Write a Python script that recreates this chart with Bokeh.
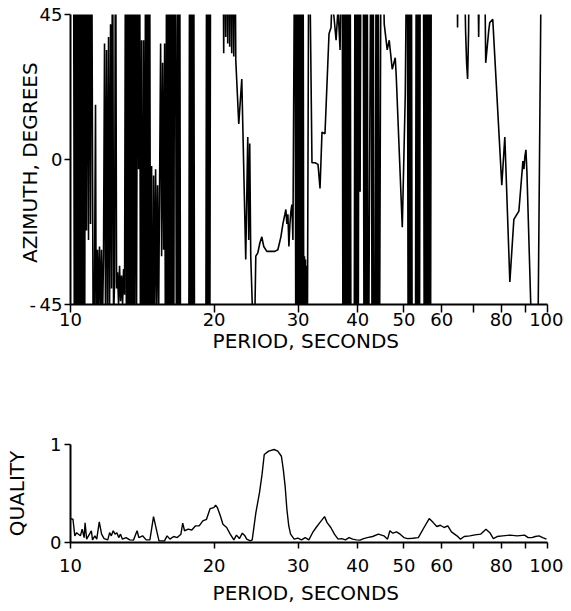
from bokeh.plotting import figure
from bokeh.layouts import column
from bokeh.models import FixedTicker, Range1d, BasicTickFormatter
from bokeh.embed import file_html
from bokeh.resources import INLINE

# ---------------- data ----------------
# azimuth trace (values beyond +/-45 are off the chart and get clipped)
az_period = [
    10.146, 10.195, 10.244, 10.294, 10.344, 10.394, 10.444, 10.495, 10.546, 10.597,
    10.648, 10.700, 10.752, 10.804, 10.856, 10.909, 10.962, 11.015, 11.068, 11.176,
    11.284, 11.339, 11.394, 11.449, 11.504, 11.560, 11.616, 11.672, 11.728, 11.785,
    11.842, 11.900, 11.958, 12.016, 12.074, 12.133, 12.192, 12.251, 12.310, 12.370,
    12.430, 12.490, 12.550, 12.611, 12.672, 12.734, 12.796, 12.858, 12.920, 12.983,
    13.046, 13.109, 13.172, 13.236, 13.300, 13.365, 13.430, 13.495, 13.560, 13.626,
    13.692, 13.758, 13.825, 13.892, 13.960, 14.027, 14.095, 14.163, 14.231, 14.300,
    14.370, 14.439, 14.509, 14.579, 14.650, 14.721, 14.792, 14.864, 14.936, 15.008,
    15.081, 15.154, 15.227, 15.301, 15.450, 15.525, 15.600, 15.676, 15.752, 15.828,
    15.905, 15.982, 16.060, 16.138, 16.216, 16.294, 16.373, 16.452, 16.532, 16.612,
    16.693, 16.774, 16.855, 16.937, 17.019, 17.101, 17.690, 17.776, 17.862, 17.948,
    18.035, 18.122, 18.210, 19.205, 19.298, 19.391, 19.485, 19.579, 19.674, 20.85,
    20.95, 21.05, 21.155, 21.26, 21.36, 21.46, 21.565, 21.67, 21.775, 21.88,
    21.99, 22.10, 22.205, 22.53, 22.86, 23.30, 23.53, 23.64, 23.755, 23.87,
    24.11, 24.34, 24.46, 24.70, 24.94, 25.18, 25.42, 25.80, 26.30, 26.82,
    27.21, 27.61, 27.88, 28.15, 28.28, 28.42, 28.56, 28.70, 28.84, 28.98,
    29.12, 29.26, 29.55, 29.69, 29.84, 29.98, 30.13, 30.27, 30.42, 30.57,
    30.72, 30.86, 30.94, 31.01, 31.09, 31.16, 31.24, 31.32, 31.62, 31.77,
    32.08, 32.55, 33.03, 33.35, 33.67, 34.16, 34.83, 35.17, 35.34, 35.69,
    36.04, 36.38, 36.74, 37.10, 37.28, 37.46, 37.64, 37.82, 38.00, 38.19,
    38.37, 38.56, 38.75, 39.31, 39.50, 39.70, 39.89, 40.08, 40.28, 40.47,
    40.67, 41.07, 41.27, 41.47, 41.67, 41.87, 42.08, 42.69, 42.90, 43.10,
    43.31, 43.52, 43.73, 43.95, 44.16, 44.38, 44.81, 45.47, 46.13, 46.58,
    47.26, 47.95, 48.18, 49.61, 50.33, 50.82, 51.07, 51.32, 51.57, 51.82,
    52.07, 52.83, 53.09, 53.35, 53.61, 53.87, 54.13, 54.92, 55.19, 55.46,
    55.73, 56.00, 56.27, 56.55, 56.82, 57.10, 64.46, 64.78, 65.09, 66.37,
    67.34, 67.67, 68.00, 68.33, 68.66, 71.04, 71.73, 72.43, 73.50, 74.21,
    75.30, 75.67, 76.78, 80.20, 81.38, 83.38, 85.01, 87.10, 88.81, 89.24,
    89.67, 90.11, 90.55, 92.32, 92.77, 95.05, 97.39, 100.0,
]
az_deg = [
    90, -90, 90, -90, 90, -90, 90, -90, 90, -90,
    90, -90, 90, -22, 90, -25, 90, -20, 90, -90,
    17, -90, -28, -45, -27, -50, -28, -50, -30, 36,
    -50, 34, -50, 38, -50, 42, -40, 90, -50, -38,
    90, -40, -35, -45, -33, -44, -36, -45, -34, -42,
    90, -90, 90, -90, 90, -90, 90, -90, 90, -90,
    90, -45, 90, -3, 90, -90, 37, -90, 37, -90,
    90, -90, 90, -90, 90, -90, -2, -90, -5, -50,
    -3, -45, -8, -50, 36, -30, 30, -28, 36, -90,
    90, -90, 90, -90, 90, -90, 90, -90, 90, 39,
    -90, 90, -90, 90, -90, -90, -90, 90, -90, 90,
    -90, 90, -90, -90, 90, -90, 90, -90, 90, 90,
    33, 90, 38, 90, 36, 90, 35, 90, 33, 90,
    32, 90, 31, 11, 25, -31, 7, -25, 5, -30,
    -50, -50, -30, -29, -26, -24, -27, -28.5, -28.5, -28.5,
    -28, -24, -20, -17, -15.5, -20, -17, -27, -20, -16,
    -14, -25, 90, -90, 90, -90, 90, -90, 90, -90,
    90, -90, -30, -45, -31, -45, -33, -90, 90, 55,
    -1, -1, -1.5, -9, 8.5, 8, 39, 41, 50, 44,
    37, 47, 34, 90, -90, 90, -90, 90, -90, 90,
    -90, 90, -90, -90, 90, -90, 90, -90, 90, -10,
    90, 90, -90, 90, -90, 90, -90, 90, -90, 90,
    -90, -90, 90, -90, 90, -90, 90, 42, 34, 37,
    28, 31.6, 26, -21, 20, 90, -90, 90, -90, 90,
    -90, -90, 90, -90, 90, -90, 90, 90, -90, 90,
    -90, 90, -90, 90, -90, 90, 90, 41, 90, 90,
    40, 30, 25, 40, 90, 90, 38, 90, 90, 30,
    40, 42.5, 43.5, -8, 7, -38, -18.6, -16, -0.5, -3,
    1, 3, -4, -47, -90, -90, 90, 90,
]

# quality trace
q_period = [
    10.0, 10.12, 10.21, 10.30, 10.39, 10.49, 10.58, 10.68, 10.73, 10.81,
    10.96, 11.06, 11.12, 11.25, 11.35, 11.49, 11.62, 11.76, 11.97, 12.08,
    12.18, 12.29, 12.40, 12.51, 12.62, 12.73, 12.85, 13.08, 13.31, 13.55,
    13.79, 13.91, 14.16, 14.41, 14.67, 14.93, 15.19, 15.33, 15.74, 15.94,
    16.16, 16.45, 16.74, 17.04, 17.19, 17.34, 17.65, 17.96, 18.29, 18.61,
    18.94, 19.28, 19.62, 19.97, 20.15, 20.32, 20.62, 20.87, 21.25, 21.62,
    22.0, 22.28, 22.6, 22.92, 23.21, 23.41, 23.82, 24.04, 24.47, 24.90,
    25.21, 25.48, 26.02, 26.72, 27.2, 27.68, 27.93, 28.18, 28.42, 28.68,
    28.93, 29.44, 29.96, 30.50, 31.05, 31.6, 32.17, 32.73, 33.32, 34.09,
    34.51, 35.13, 35.75, 36.39, 37.03, 37.7, 38.37, 39.05, 39.75, 40.45,
    41.17, 41.9, 43.0, 44.2, 45.4, 46.2, 46.73, 47.4, 48.25, 49.1,
    50.0, 50.9, 52.2, 53.6, 55.1, 56.5, 57.6, 58.6, 59.6, 60.7,
    61.8, 62.9, 64.6, 65.7, 66.9, 68.7, 70.5, 72.4, 74.3, 75.7,
    77.0, 78.4, 80.5, 83.4, 86.4, 89.5, 91.1, 92.7, 94.3, 96.0,
    97.7, 99.5,
]
q_value = [
    0.244, 0.237, 0.068, 0.10, 0.085, 0.068, 0.136, 0.05, 0.2, 0.034,
    0.085, 0.12, 0.027, 0.068, 0.034, 0.21, 0.085, 0.04, 0.027, 0.10,
    0.068, 0.12, 0.085, 0.10, 0.05, 0.085, 0.034, 0.05, 0.027, 0.024,
    0.12, 0.05, 0.068, 0.027, 0.027, 0.264, 0.10, 0.017, 0.017, 0.068,
    0.034, 0.061, 0.05, 0.085, 0.197, 0.12, 0.136, 0.127, 0.17, 0.17,
    0.22, 0.237, 0.346, 0.356, 0.38, 0.356, 0.27, 0.186, 0.153, 0.085,
    0.027, 0.075, 0.04, 0.095, 0.068, 0.034, 0.017, 0.027, 0.305, 0.508,
    0.695, 0.898, 0.932, 0.949, 0.932, 0.88, 0.746, 0.576, 0.339, 0.17,
    0.085, 0.034, 0.044, 0.027, 0.05, 0.027, 0.10, 0.153, 0.203, 0.264,
    0.203, 0.153, 0.085, 0.034, 0.04, 0.027, 0.05, 0.034, 0.027, 0.024,
    0.04, 0.05, 0.061, 0.085, 0.068, 0.034, 0.12, 0.095, 0.108, 0.085,
    0.05, 0.04, 0.044, 0.05, 0.153, 0.244, 0.203, 0.163, 0.176, 0.153,
    0.17, 0.108, 0.068, 0.034, 0.061, 0.068, 0.078, 0.085, 0.136, 0.10,
    0.04, 0.061, 0.068, 0.075, 0.068, 0.075, 0.05, 0.05, 0.061, 0.068,
    0.05, 0.034,
]

x_ticks = [10, 20, 30, 40, 50, 60, 70, 80, 90, 100]
x_tick_labels = {10: "10", 20: "20", 30: "30", 40: "40", 50: "50",
                 60: "60", 70: "", 80: "80", 90: "", 100: "100"}
az_ticks = [-45, 0, 45]
az_tick_labels = {-45: "-\u200945", 0: "0", 45: "45"}
q_ticks = [0, 1]
q_tick_labels = {0: "0", 1: "1"}

FONT = "DejaVu Sans"


def style(p):
    p.outline_line_color = None
    p.xgrid.visible = False
    p.ygrid.visible = False
    p.background_fill_color = "white"
    p.border_fill_color = "white"
    for ax in (p.xaxis[0], p.yaxis[0]):
        ax.axis_line_color = "black"
        ax.axis_line_width = 2
        ax.major_tick_line_color = "black"
        ax.major_tick_line_width = 1.5
        ax.major_tick_in = 0
        ax.major_tick_out = 7
        ax.minor_tick_line_color = None
        ax.major_label_text_font = FONT
        ax.major_label_text_font_size = "18px"
        ax.major_label_text_color = "black"
        ax.axis_label_text_font = FONT
        ax.axis_label_text_font_size = "20px"
        ax.axis_label_text_font_style = "normal"
        ax.axis_label_text_color = "black"


# ---------------- top panel ----------------
p1 = figure(width=563, height=367, x_axis_type="log",
            x_range=Range1d(10, 100), y_range=Range1d(-45, 45),
            output_backend="svg", toolbar_location=None,
            min_border_left=70, min_border_right=16,
            min_border_top=14, min_border_bottom=63)
style(p1)
p1.line(az_period, az_deg, line_color="black", line_width=1.6)
p1.xaxis.ticker = FixedTicker(ticks=x_ticks, minor_ticks=[])
p1.xaxis.formatter = BasicTickFormatter()
p1.xaxis.major_label_overrides = x_tick_labels
p1.xaxis.axis_label = "PERIOD,  SECONDS"
p1.xaxis.major_tick_out = 8
p1.xaxis.major_label_standoff = 0
p1.xaxis.axis_label_standoff = 0
p1.yaxis.ticker = FixedTicker(ticks=az_ticks, minor_ticks=[])
p1.yaxis.major_label_overrides = az_tick_labels
p1.yaxis.axis_label = "AZIMUTH,  DEGREES"
p1.yaxis.major_tick_out = 6
p1.yaxis.major_label_standoff = 2
p1.yaxis.axis_label_standoff = -15

# ---------------- bottom panel ----------------
p2 = figure(width=563, height=241, x_axis_type="log",
            x_range=Range1d(10, 100), y_range=Range1d(0, 1),
            output_backend="svg", toolbar_location=None,
            min_border_left=70, min_border_right=16,
            min_border_top=77, min_border_bottom=66)
style(p2)
p2.line(q_period, q_value, line_color="black", line_width=1.4)
p2.xaxis.ticker = FixedTicker(ticks=x_ticks, minor_ticks=[])
p2.xaxis.formatter = BasicTickFormatter()
p2.xaxis.major_label_overrides = x_tick_labels
p2.xaxis.axis_label = "PERIOD,  SECONDS"
p2.xaxis.major_tick_out = 6
p2.xaxis.major_label_standoff = 10
p2.xaxis.axis_label_standoff = 6
p2.yaxis.ticker = FixedTicker(ticks=q_ticks, minor_ticks=[])
p2.yaxis.major_label_overrides = q_tick_labels
p2.yaxis.axis_label = "QUALITY"
p2.yaxis.major_tick_out = 6
p2.yaxis.major_label_standoff = 3
p2.yaxis.axis_label_standoff = 18

layout = column(p1, p2)
open("out.html", "w").write(file_html(layout, INLINE))
